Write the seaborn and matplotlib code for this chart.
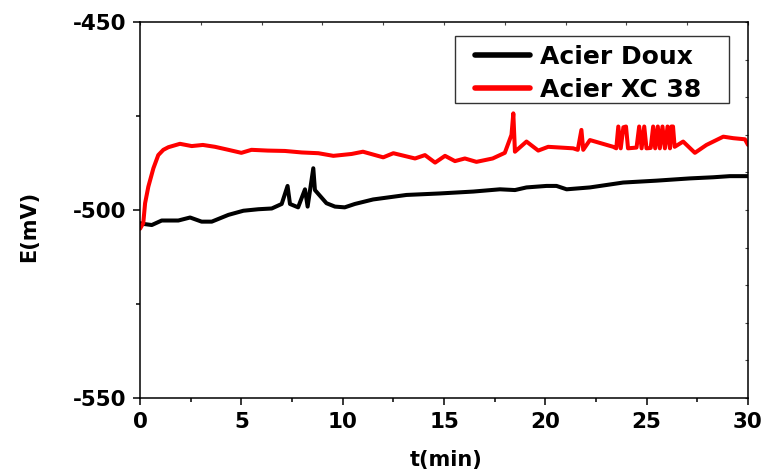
import numpy as np
import pandas as pd
import matplotlib
matplotlib.use("Agg")
import matplotlib.pyplot as plt
from matplotlib.ticker import MultipleLocator
from matplotlib.patches import Rectangle
import seaborn as sns

# Open-circuit potential vs time for two steels
t_doux = [0.0, 0.16, 0.58, 1.07, 1.89, 2.47, 3.04, 3.54, 4.36, 5.1, 5.84, 6.5, 6.99,
          7.28, 7.4, 7.8, 8.14, 8.27, 8.55, 8.63, 9.2, 9.62, 10.1, 10.6, 11.5, 13.15,
          14.8, 16.44, 17.76, 18.5, 19.07, 20.06, 20.55, 21.05, 22.2, 23.84, 25.48,
          27.13, 28.28, 29.1, 30.0]
e_doux = [-503.5, -503.7, -504.0, -502.8, -502.8, -502.0, -503.1, -503.1, -501.3, -500.2,
          -499.8, -499.6, -498.4, -493.6, -498.4, -499.3, -494.5, -499.1, -488.9, -494.7,
          -498.2, -499.1, -499.3, -498.4, -497.2, -496.0, -495.6, -495.1, -494.5, -494.7,
          -494.0, -493.6, -493.6, -494.5, -494.0, -492.7, -492.2, -491.6, -491.3, -491.0,
          -491.0]

t_xc38 = [0.0, 0.16, 0.25, 0.41, 0.66, 0.9, 1.15, 1.4, 1.97, 2.55, 3.1, 3.7, 4.36, 5.0,
          5.5, 6.3, 7.15, 7.98, 8.8, 9.54, 10.44, 11.0, 12.0, 12.5, 13.57, 14.06, 14.56,
          15.05, 15.54, 16.03, 16.6, 17.4, 18.0, 18.33, 18.42, 18.5, 19.07, 19.65, 20.14,
          21.37, 21.6, 21.78, 21.87, 22.2, 23.35, 23.5, 23.6, 23.72, 23.85, 23.98, 24.08,
          24.5, 24.63, 24.75, 24.88, 24.99, 25.2, 25.32, 25.42, 25.55, 25.65, 25.78, 25.9,
          26.03, 26.15, 26.22, 26.3, 26.38, 26.8, 27.38, 27.95, 28.78, 29.27, 29.85, 30.0]
e_xc38 = [-505.0, -503.5, -498.2, -493.8, -488.9, -485.4, -484.0, -483.3, -482.4, -483.0,
          -482.7, -483.2, -484.0, -484.8, -484.0, -484.2, -484.3, -484.7, -484.9, -485.6,
          -485.1, -484.5, -486.0, -484.9, -486.3, -485.4, -487.4, -485.6, -487.0, -486.3,
          -487.2, -486.3, -484.8, -480.0, -474.3, -484.5, -481.8, -484.2, -483.2, -483.6,
          -484.0, -478.7, -484.0, -481.4, -483.2, -483.6, -477.8, -483.6, -478.0, -477.8,
          -483.6, -483.4, -477.8, -483.6, -477.8, -483.6, -483.5, -477.8, -483.6, -477.8,
          -483.6, -477.8, -483.6, -477.8, -483.6, -477.8, -477.8, -483.2, -481.8, -484.8,
          -482.7, -480.5, -480.9, -481.2, -482.7]

labels = ["Acier Doux", "Acier XC 38"]
colors = ["#000000", "#ff0000"]

df = pd.concat([
    pd.DataFrame({"t": t_doux, "E": e_doux, "serie": labels[0]}),
    pd.DataFrame({"t": t_xc38, "E": e_xc38, "serie": labels[1]}),
], ignore_index=True)

sns.set_theme(style="white")
plt.rcParams["font.family"] = ["DejaVu Sans"]
plt.rcParams["font.weight"] = "bold"
plt.rcParams["axes.unicode_minus"] = False
for key in ["text.color", "axes.labelcolor", "xtick.color", "ytick.color"]:
    plt.rcParams[key] = "black"

fig = plt.figure(figsize=(7.66, 4.76), dpi=100)
ax = fig.add_axes([0.1828, 0.1639, 0.7937, 0.7899])

sns.lineplot(data=df, x="t", y="E", hue="serie", palette=colors,
             estimator=None, sort=False, linewidth=2.9, ax=ax)

ax.set_xlim(0, 30)
ax.set_ylim(-550, -450)
ax.xaxis.set_major_locator(MultipleLocator(5))
ax.xaxis.set_minor_locator(MultipleLocator(2.5))
ax.yaxis.set_major_locator(MultipleLocator(50))
ax.yaxis.set_minor_locator(MultipleLocator(25))
ax.tick_params(which="major", direction="out", length=5.2, width=1.1,
               labelsize=15.5, bottom=True, left=True)
ax.tick_params(axis="x", which="major", pad=5)
ax.tick_params(axis="y", which="major", pad=4.5)
ax.tick_params(which="minor", direction="out", length=3, width=1.1,
               bottom=True, left=True)
for lab in ax.get_xticklabels() + ax.get_yticklabels():
    lab.set_fontweight("bold")

for sp in ax.spines.values():
    sp.set_visible(True)
    sp.set_color("black")
    sp.set_linewidth(1.1)

# faint inner ticks along the top and right edges
top = ax.secondary_xaxis("top")
top.xaxis.set_major_locator(MultipleLocator(3))
top.tick_params(direction="in", length=2.5, width=0.8, labeltop=False, colors="#444444")
top.spines["top"].set_visible(False)
right = ax.secondary_yaxis("right")
right.yaxis.set_major_locator(MultipleLocator(10))
right.tick_params(direction="in", length=2.5, width=0.8, labelright=False, colors="#444444")
right.spines["right"].set_visible(False)

ax.set_xlabel("t(min)", fontsize=15, fontweight="bold")
ax.set_ylabel("E(mV)", fontsize=15, fontweight="bold")
ax.xaxis.set_label_coords(0.503, -0.138)
ax.yaxis.set_label_coords(-0.166, 0.457)

leg = ax.legend(loc="upper left", bbox_to_anchor=(0.551, 0.939),
                prop={"weight": "bold", "size": 18}, frameon=False,
                handlelength=2.2, handletextpad=0.4, labelspacing=0.36,
                borderpad=0, borderaxespad=0)
leg.set_zorder(6)
for h in leg.get_lines():
    h.set_linewidth(4)

# legend box with wider side margins than the default frame
fig.canvas.draw()
bb = leg.get_window_extent()
inv = fig.transFigure.inverted()
(x0, y0) = inv.transform((bb.x0 - 20, bb.y0 - 1))
(x1, y1) = inv.transform((bb.x1 + 28, bb.y1 + 9))
frame = Rectangle((x0, y0), x1 - x0, y1 - y0, transform=fig.transFigure,
                  facecolor="white", edgecolor="#333333", linewidth=1.0,
                  zorder=5.5, clip_on=False)
ax.add_patch(frame)

fig.savefig("out.png", dpi=100)
